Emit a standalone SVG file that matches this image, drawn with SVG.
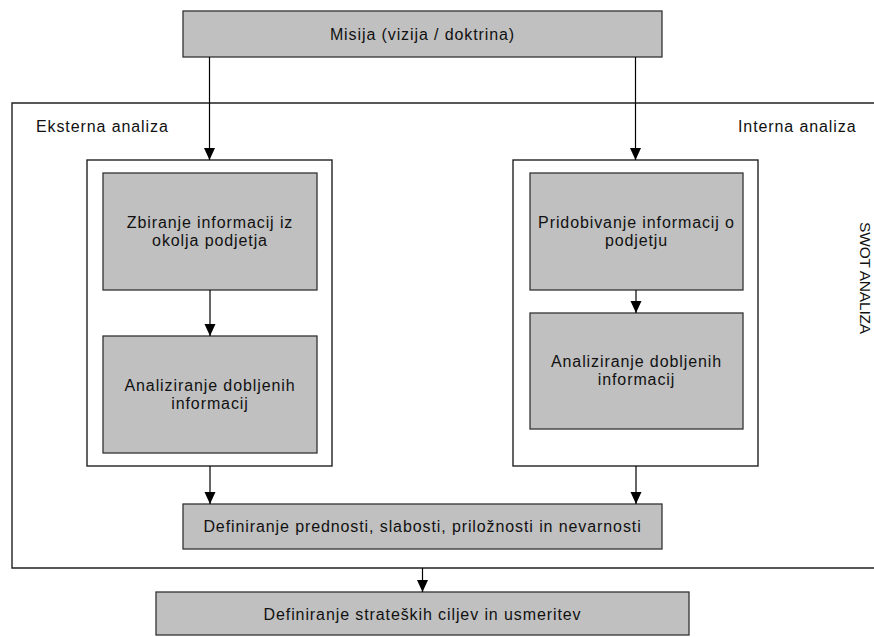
<svg xmlns="http://www.w3.org/2000/svg" width="874" height="637" viewBox="0 0 874 637">
<style>
.box{fill:#c0c0c0;stroke:#333;stroke-width:1.3}
.cont{fill:#fff;stroke:#222;stroke-width:1.4}
.frame{fill:none;stroke:#222;stroke-width:1.4}
.t{font-family:"Liberation Sans",Arial,sans-serif;font-size:16px;fill:#111;letter-spacing:0.9px}
.c{text-anchor:middle}
.con{stroke:#000;stroke-width:1.2;fill:none;marker-end:url(#ah)}
</style>
<defs>
<marker id="ah" markerUnits="userSpaceOnUse" markerWidth="13" markerHeight="13" refX="12" refY="5.5" orient="auto">
<path d="M0,0 L12,5.5 L0,11 Z" fill="#000"/>
</marker>
</defs>
<rect width="874" height="637" fill="#fff"/>
<g id="swot-frame">
<path class="frame" d="M880,103 H12 V568 H880"/>
<text class="t" x="36" y="132">Eksterna analiza</text>
<text class="t" x="738" y="132">Interna analiza</text>
<text class="t" style="font-size:15.5px;letter-spacing:-0.2px" text-anchor="middle" transform="translate(860,278) rotate(90)">SWOT ANALIZA</text>
</g>
<g id="misija">
<rect class="box" x="183" y="11" width="479" height="46"/>
<text class="t c" x="422.5" y="40">Misija (vizija / doktrina)</text>
</g>
<g id="eksterna-container">
<rect class="cont" x="87" y="160" width="245" height="306"/>
</g>
<g id="interna-container">
<rect class="cont" x="513" y="160" width="245" height="306"/>
</g>
<g id="zbiranje">
<rect class="box" x="103" y="173" width="214" height="117"/>
<text class="t c" x="210" y="228">Zbiranje informacij iz</text>
<text class="t c" x="210" y="246">okolja podjetja</text>
</g>
<g id="analiziranje-ext">
<rect class="box" x="103" y="336" width="214" height="117"/>
<text class="t c" x="210" y="391">Analiziranje dobljenih</text>
<text class="t c" x="210" y="409">informacij</text>
</g>
<g id="pridobivanje">
<rect class="box" x="530" y="173" width="213" height="117"/>
<text class="t c" x="636.5" y="228">Pridobivanje informacij o</text>
<text class="t c" x="636.5" y="246">podjetju</text>
</g>
<g id="analiziranje-int">
<rect class="box" x="530" y="313" width="213" height="116"/>
<text class="t c" x="636.5" y="367">Analiziranje dobljenih</text>
<text class="t c" x="636.5" y="385">informacij</text>
</g>
<g id="definiranje-swot">
<rect class="box" x="183" y="504" width="479" height="45"/>
<text class="t c" x="422.5" y="532">Definiranje prednosti, slabosti, priložnosti in nevarnosti</text>
</g>
<g id="definiranje-ciljev">
<rect class="box" x="156" y="592" width="533" height="43"/>
<text class="t c" x="422.5" y="620">Definiranje strateških ciljev in usmeritev</text>
</g>
<g id="connectors">
<line class="con" x1="209.5" y1="57" x2="209.5" y2="160"/>
<line class="con" x1="635.5" y1="57" x2="635.5" y2="160"/>
<line class="con" x1="210" y1="290" x2="210" y2="336"/>
<line class="con" x1="636" y1="290" x2="636" y2="313"/>
<line class="con" x1="210" y1="466" x2="210" y2="504"/>
<line class="con" x1="636" y1="466" x2="636" y2="504"/>
<line class="con" x1="422.5" y1="568" x2="422.5" y2="592"/>
</g>
</svg>
